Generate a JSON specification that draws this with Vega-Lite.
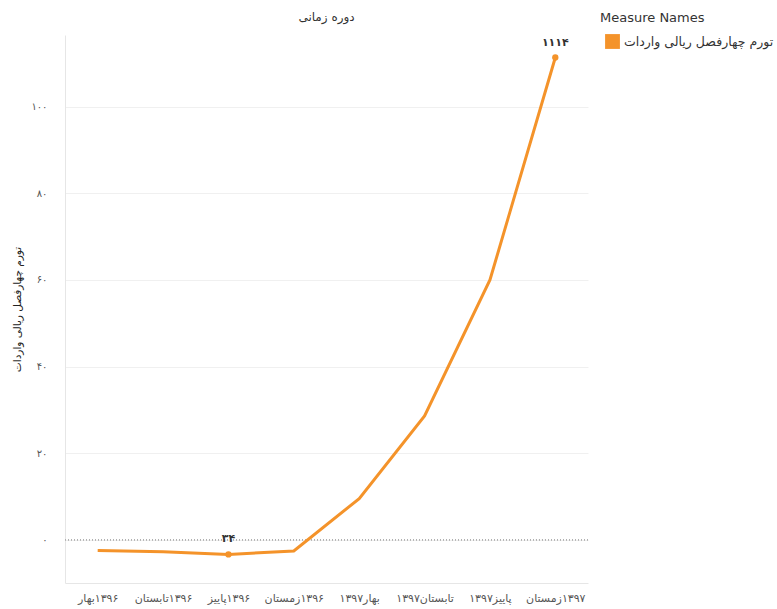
{
  "$schema": "https://vega.github.io/schema/vega-lite/v6.json",
  "autosize": "none",
  "width": 523,
  "height": 548,
  "padding": {"left": 65, "top": 35, "right": 189, "bottom": 26},
  "background": "white",
  "config": {
    "view": {"stroke": null},
    "font": "DejaVu Sans"
  },
  "title": {
    "text": "دوره زمانی",
    "anchor": "middle",
    "frame": "group",
    "fontSize": 12,
    "fontWeight": "normal",
    "color": "#333333",
    "offset": 4,
    "dy": 16,
    "font": "DejaVu Sans"
  },
  "data": {
    "values": [
      {"period": "بهار‎۱۳۹۶", "value": -2.5, "measure": "تورم چهارفصل ریالی واردات", "label": null},
      {"period": "تابستان‎۱۳۹۶", "value": -2.8, "measure": "تورم چهارفصل ریالی واردات", "label": null},
      {"period": "پاییز‎۱۳۹۶", "value": -3.4, "measure": "تورم چهارفصل ریالی واردات", "label": "۳۴"},
      {"period": "زمستان‎۱۳۹۶", "value": -2.6, "measure": "تورم چهارفصل ریالی واردات", "label": null},
      {"period": "بهار۱۳۹۷", "value": 9.5, "measure": "تورم چهارفصل ریالی واردات", "label": null},
      {"period": "تابستان۱۳۹۷", "value": 28.6, "measure": "تورم چهارفصل ریالی واردات", "label": null},
      {"period": "پاییز۱۳۹۷", "value": 60.0, "measure": "تورم چهارفصل ریالی واردات", "label": null},
      {"period": "زمستان‎۱۳۹۷", "value": 111.4, "measure": "تورم چهارفصل ریالی واردات", "label": "۱۱۱۴"}
    ]
  },
  "encoding": {
    "x": {
      "field": "period",
      "type": "ordinal",
      "sort": null,
      "scale": {"type": "point", "padding": 0.5},
      "axis": {
        "title": null,
        "labelAngle": 0,
        "ticks": false,
        "domainColor": "#e6e6e6",
        "labelColor": "#555555",
        "labelFontSize": 11,
        "labelPadding": 9,
        "grid": false
      }
    },
    "y": {
      "field": "value",
      "type": "quantitative",
      "scale": {"domain": [-10, 116.6], "nice": false, "zero": false},
      "axis": {
        "title": "تورم چهارفصل ریالی واردات",
        "titleFontSize": 10.5,
        "titleFontWeight": "normal",
        "titleColor": "#222222",
        "titleX": -48,
        "titleY": 274,
        "titleAlign": "center",
        "titleBaseline": "middle",
        "values": [0, 20, 40, 60, 80, 100],
        "labelExpr": "datum.value == 0 ? '۰' : datum.value == 20 ? '۲۰' : datum.value == 40 ? '۴۰' : datum.value == 60 ? '۶۰' : datum.value == 80 ? '۸۰' : '۱۰۰'",
        "ticks": false,
        "labelPadding": 18,
        "labelColor": "#555555",
        "labelFontSize": 10,
        "domainColor": "#e6e6e6",
        "gridColor": "#f0f0f0"
      }
    }
  },
  "layer": [
    {
      "mark": {"type": "rule", "strokeDash": [1, 2], "color": "#b0b0b0", "strokeWidth": 1},
      "encoding": {"y": {"datum": 0}, "x": null}
    },
    {
      "mark": {"type": "line", "strokeWidth": 3},
      "encoding": {
        "color": {
          "field": "measure",
          "type": "nominal",
          "scale": {"range": ["#F4932A"]},
          "legend": {
            "title": "Measure Names",
            "orient": "none",
            "legendX": 535,
            "legendY": -23,
            "titleFontSize": 13,
            "titleFontWeight": "normal",
            "titleColor": "#333333",
            "titlePadding": 9,
            "labelFontSize": 12.5,
            "labelColor": "#333333",
            "symbolType": "square",
            "symbolSize": 220,
            "symbolOffset": 5,
            "symbolStrokeWidth": 0,
            "symbolFillColor": "#F4932A",
            "symbolOpacity": 1
          }
        }
      }
    },
    {
      "transform": [{"filter": "datum.label != null"}],
      "mark": {"type": "point", "filled": true, "size": 40, "color": "#F4932A", "opacity": 1}
    },
    {
      "transform": [{"filter": "datum.label != null"}],
      "mark": {"type": "text", "baseline": "bottom", "dy": -10, "fontSize": 11, "fontWeight": "bold", "color": "#333333"},
      "encoding": {"text": {"field": "label"}}
    }
  ]
}
